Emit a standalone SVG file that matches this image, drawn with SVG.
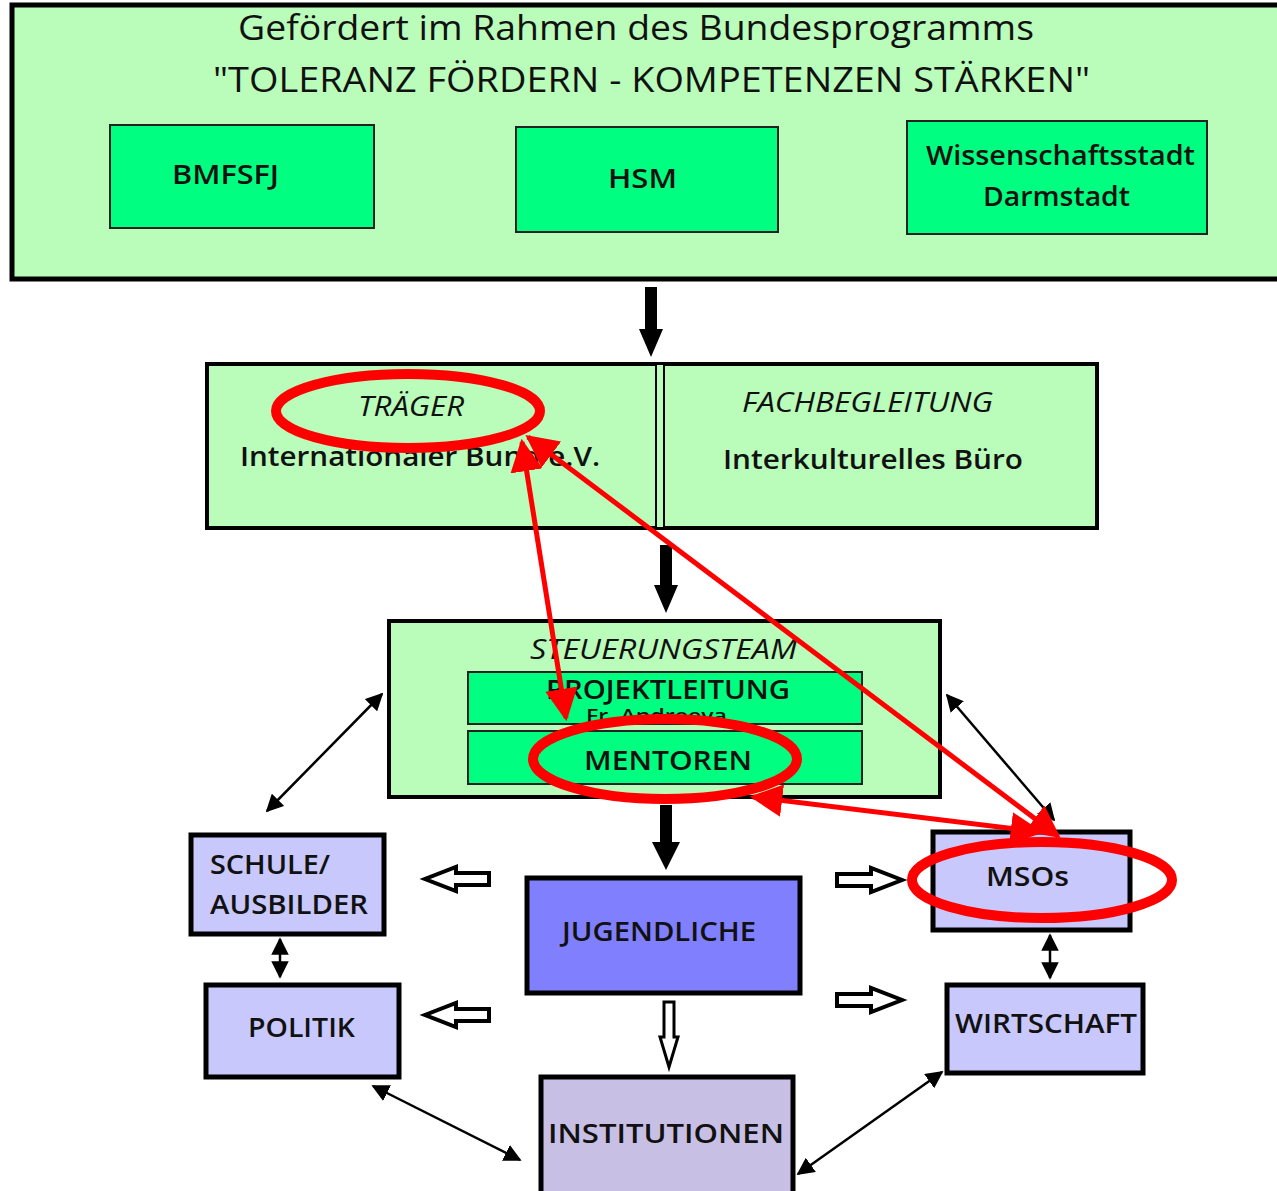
<svg xmlns="http://www.w3.org/2000/svg" width="1277" height="1191" viewBox="0 0 1277 1191">
<style>
text{font-family:"Open Sans","Liberation Sans",sans-serif;fill:#111;}
.t{font-size:34px;font-weight:500;}
.n{font-size:27px;font-weight:600;}
.i{font-style:italic;font-weight:500;}
.outer{fill:#bafcba;stroke:#000;stroke-width:5;}
.inner{fill:#00ff80;stroke:#222;stroke-width:2;}
.lav{fill:#c8c8fc;stroke:#000;stroke-width:5;}
.red{fill:none;stroke:#ff0000;stroke-width:10;}
.thin{stroke:#000;stroke-width:2.5;fill:none;}
.rl{stroke:#ff0000;stroke-width:5;fill:none;}
.hollow{fill:#fff;stroke:#000;stroke-width:4;}
</style>
<defs>
<marker id="ah" viewBox="0 0 10 10" refX="9" refY="5" markerWidth="7" markerHeight="7" orient="auto-start-reverse"><path d="M0,0L10,5L0,10z" fill="#000"/></marker>
<marker id="rh" viewBox="0 0 10 10" refX="9" refY="5" markerWidth="6.5" markerHeight="6.5" orient="auto-start-reverse"><path d="M0,0L10,5L0,10z" fill="#ff0000"/></marker>
<clipPath id="pl"><rect x="468" y="672" width="394" height="50"/></clipPath>
</defs>

<g id="top">
<rect class="outer" x="12" y="5" width="1275" height="274"/>
<text class="t" x="238" y="40" textLength="796" lengthAdjust="spacingAndGlyphs">Gefördert im Rahmen des Bundesprogramms</text>
<text class="t" x="213" y="92" textLength="877" lengthAdjust="spacingAndGlyphs">"TOLERANZ FÖRDERN - KOMPETENZEN STÄRKEN"</text>
</g>
<g id="bmfsfj">
<rect class="inner" x="110" y="125" width="264" height="103"/>
<text class="n" x="172" y="184" textLength="107" lengthAdjust="spacingAndGlyphs">BMFSFJ</text>
</g>
<g id="hsm">
<rect class="inner" x="516" y="127" width="262" height="105"/>
<text class="n" x="608" y="188" textLength="69" lengthAdjust="spacingAndGlyphs">HSM</text>
</g>
<g id="wissenschaftsstadt">
<rect class="inner" x="907" y="121" width="300" height="113"/>
<text class="n" x="926" y="165" textLength="269" lengthAdjust="spacingAndGlyphs">Wissenschaftsstadt</text>
<text class="n" x="983" y="206" textLength="147" lengthAdjust="spacingAndGlyphs">Darmstadt</text>
</g>

<g id="traeger">
<rect class="outer" x="207" y="364" width="890" height="164" style="stroke-width:4"/>
<rect x="656" y="364" width="8" height="164" fill="#bafcba" stroke="#000" stroke-width="2"/>
<text class="n i" x="358" y="416" textLength="106" lengthAdjust="spacingAndGlyphs">TRÄGER</text>
<text class="n" x="240" y="466" textLength="360" lengthAdjust="spacingAndGlyphs">Internationaler Bund e.V.</text>
<text class="n i" x="742" y="412" textLength="251" lengthAdjust="spacingAndGlyphs">FACHBEGLEITUNG</text>
<text class="n" x="723" y="469" textLength="300" lengthAdjust="spacingAndGlyphs">Interkulturelles Büro</text>
</g>

<g id="steuerungsteam">
<rect class="outer" x="389" y="621" width="551" height="176" style="stroke-width:4"/>
<text class="n i" x="530" y="659" textLength="267" lengthAdjust="spacingAndGlyphs">STEUERUNGSTEAM</text>
</g>
<g id="projektleitung">
<rect class="inner" x="468" y="672" width="394" height="52"/>
<text class="n" x="546" y="699" textLength="244" lengthAdjust="spacingAndGlyphs">PROJEKTLEITUNG</text>
<text clip-path="url(#pl)" x="586" y="722" style="font-size:18px;font-weight:600" textLength="141" lengthAdjust="spacingAndGlyphs">Fr. Andreeva</text>
</g>
<g id="mentoren">
<rect class="inner" x="468" y="731" width="394" height="53"/>
<text class="n" x="584" y="770" textLength="168" lengthAdjust="spacingAndGlyphs">MENTOREN</text>
</g>

<g id="schule">
<rect class="lav" x="191" y="835" width="193" height="99"/>
<text class="n" x="210" y="874" textLength="120" lengthAdjust="spacingAndGlyphs">SCHULE/</text>
<text class="n" x="210" y="914" textLength="158" lengthAdjust="spacingAndGlyphs">AUSBILDER</text>
</g>
<g id="politik">
<rect class="lav" x="206" y="985" width="193" height="92"/>
<text class="n" x="248" y="1037" textLength="107" lengthAdjust="spacingAndGlyphs">POLITIK</text>
</g>
<g id="jugendliche">
<rect x="527" y="878" width="273" height="115" fill="#8080ff" stroke="#000" stroke-width="5"/>
<text class="n" x="562" y="941" textLength="194" lengthAdjust="spacingAndGlyphs">JUGENDLICHE</text>
</g>
<g id="institutionen">
<rect x="541" y="1077" width="252" height="118" fill="#c8c0e4" stroke="#000" stroke-width="5"/>
<text class="n" x="548" y="1143" textLength="236" lengthAdjust="spacingAndGlyphs">INSTITUTIONEN</text>
</g>
<g id="msos">
<rect class="lav" x="933" y="832" width="197" height="98"/>
<text class="n" x="986" y="886" textLength="83" lengthAdjust="spacingAndGlyphs">MSOs</text>
</g>
<g id="wirtschaft">
<rect class="lav" x="947" y="985" width="196" height="88"/>
<text class="n" x="955" y="1033" textLength="182" lengthAdjust="spacingAndGlyphs">WIRTSCHAFT</text>
</g>

<g id="connectors">
<path d="M645,287h12v42h6l-12,28l-12,-28h6z" fill="#000"/>
<path d="M660,545h12v40h6l-12,28l-12,-28h6z" fill="#000"/>
<path d="M660,805h12v37h8l-14,28l-14,-28h8z" fill="#000"/>
<path class="hollow" d="M489,873v12h-33v6l-31,-12l31,-12v6z"/>
<path class="hollow" d="M489,1009v12h-33v6l-31,-12l31,-12v6z"/>
<path class="hollow" d="M837,874v12h34v6l31,-12l-31,-12v6z"/>
<path class="hollow" d="M837,994v12h34v6l31,-12l-31,-12v6z"/>
<path class="hollow" style="stroke-width:3" d="M664,1002h10v35h4l-9,30l-9,-30h4z"/>
<line class="thin" x1="382" y1="694" x2="267" y2="811" marker-start="url(#ah)" marker-end="url(#ah)"/>
<line class="thin" x1="947" y1="695" x2="1054" y2="820" marker-start="url(#ah)" marker-end="url(#ah)"/>
<line class="thin" x1="280" y1="939" x2="280" y2="977" marker-start="url(#ah)" marker-end="url(#ah)"/>
<line class="thin" x1="1050" y1="935" x2="1050" y2="978" marker-start="url(#ah)" marker-end="url(#ah)"/>
<line class="thin" x1="373" y1="1086" x2="520" y2="1160" marker-start="url(#ah)" marker-end="url(#ah)"/>
<line class="thin" x1="942" y1="1072" x2="798" y2="1174" marker-start="url(#ah)" marker-end="url(#ah)"/>
<ellipse class="red" cx="408" cy="411" rx="132" ry="37"/>
<ellipse class="red" cx="665" cy="759" rx="132" ry="40"/>
<ellipse class="red" cx="1042" cy="880" rx="130" ry="38"/>
<line class="rl" x1="522" y1="442" x2="566" y2="718" marker-start="url(#rh)" marker-end="url(#rh)"/>
<line class="rl" x1="528" y1="437" x2="1058" y2="836" marker-start="url(#rh)" marker-end="url(#rh)"/>
<line class="rl" x1="753" y1="797" x2="1040" y2="832" marker-start="url(#rh)" marker-end="url(#rh)"/>
</g>
</svg>
